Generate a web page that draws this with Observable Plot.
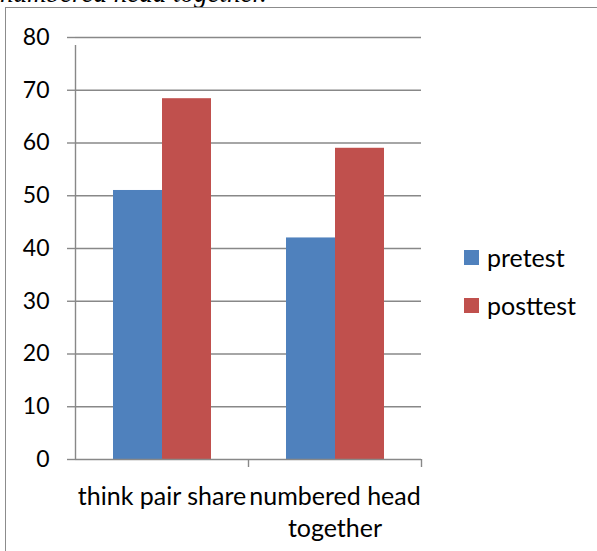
<!DOCTYPE html>
<html>
<head>
<meta charset="utf-8">
<script src="https://cdn.jsdelivr.net/npm/d3@7"></script>
<script src="https://cdn.jsdelivr.net/npm/@observablehq/plot@0.6"></script>
<style>
  html, body { margin: 0; padding: 0; background: #fff; }
  body { position: relative; width: 597px; height: 551px; overflow: hidden; font-family: Lato, "Noto Sans", sans-serif; }
  #title { position: absolute; left: 0; top: -20px; font-family: "Liberation Serif", serif; font-style: italic; font-size: 27px; line-height: 27px; color: #000; white-space: nowrap; }
  #box { position: absolute; left: 5px; top: 7px; width: 700px; height: 700px; border: 1px solid #8c8c8c; }
  #chart { position: absolute; left: 0; top: 0; }
  #legend { position: absolute; left: 464px; top: 0; }
  .item { position: absolute; left: 0; display: flex; align-items: center; white-space: nowrap; font-size: 25px; color: #000; }
  .sw { width: 15px; height: 15px; margin-right: 8px; flex: none; }
</style>
</head>
<body>
<div id="title">numbered head together.</div>
<div id="box"></div>
<div id="chart"></div>
<div id="legend"></div>
<script>
const categories = ["think pair share", "numbered head together"];
const tickLabels = ["think pair share", "numbered head\ntogether"];
const series = ["pretest", "posttest"];
const pretest = [51, 42];
const posttest = [68.4, 59];
const yTicks = [0, 10, 20, 30, 40, 50, 60, 70, 80];
const colors = ["#4F81BD", "#C0504D"];

const values = {pretest, posttest};
const data = [];
categories.forEach((c, i) => series.forEach(s => data.push({category: c, series: s, value: values[s][i]})));

const W = 597, H = 551, mL = 75, mR = 176, mT = 37, mB = 92;
const band = (W - mL - mR) / categories.length;
const gridColor = "#888888";
const fontSize = 23;
const xFontSize = 25;

const plot = Plot.plot({
  width: W, height: H,
  marginLeft: mL, marginRight: mR, marginTop: mT, marginBottom: mB,
  style: {fontFamily: "Lato, 'Noto Sans', sans-serif", fontSize: fontSize + "px", color: "#000", background: "transparent"},
  fx: {domain: categories, padding: 0, axis: null},
  x: {domain: series, paddingInner: 0, paddingOuter: 0.765, axis: null},
  y: {domain: [0, 80], axis: null},
  color: {domain: series, range: colors},
  marks: [
    Plot.ruleY(yTicks.filter(t => t > 0), {stroke: gridColor, strokeWidth: 1.4}),
    Plot.axisY({ticks: yTicks, label: null, tickSize: 8, tickPadding: 18, fontSize, stroke: gridColor, strokeWidth: 1.4, tickFormat: d => String(d), color: "#000"}),
    Plot.barY(data, {fx: "category", x: "series", y: "value", fill: "series"}),
    Plot.ruleY([0], {stroke: gridColor, strokeWidth: 1.4}),
    Plot.ruleX([categories[0]], {fx: d => d, x: null, dx: -band / 2, y1: 0, y2: 80, insetBottom: -8, stroke: gridColor, strokeWidth: 1.4}),
    Plot.ruleX(categories, {fx: d => d, x: null, dx: band / 2, y1: 0, y2: 0, insetBottom: -8, stroke: gridColor, strokeWidth: 1.4}),
    Plot.text(categories, {fx: d => d, text: (d, i) => tickLabels[i], frameAnchor: "bottom", lineAnchor: "top", dy: 23, lineHeight: 1.28, fontSize: xFontSize, fill: "#000"})
  ]
});
document.getElementById("chart").appendChild(plot);

const legend = document.getElementById("legend");
series.forEach((s, i) => {
  const item = document.createElement("div");
  item.className = "item";
  item.style.top = (242 + i * 48) + "px";
  const sw = document.createElement("span");
  sw.className = "sw";
  sw.style.background = colors[i];
  const lab = document.createElement("span");
  lab.textContent = s;
  item.appendChild(sw);
  item.appendChild(lab);
  legend.appendChild(item);
});
</script>
</body>
</html>
